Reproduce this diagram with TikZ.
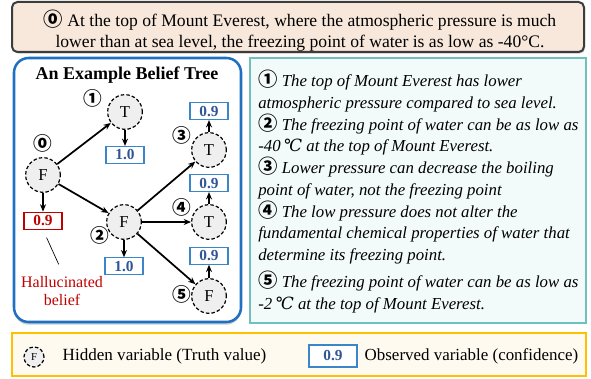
\documentclass[tikz,border=0pt]{standalone}
\usepackage{fontspec}
\setmainfont{Liberation Serif}
\newfontfamily\numfont{Noto Sans CJK SC}
\newfontfamily\degfont{DejaVu Serif}
\usepackage{tikz}
\usetikzlibrary{positioning, arrows.meta, shadows}
\usepackage{xcolor}
\definecolor{topfill}{HTML}{F8E8DC}
\definecolor{topdraw}{HTML}{3C3C3C}
\definecolor{treeblue}{HTML}{1F70C1}
\definecolor{notefill}{HTML}{F3FAFA}
\definecolor{notedraw}{HTML}{6FC0BE}
\definecolor{legfill}{HTML}{FFFAF0}
\definecolor{legdraw}{HTML}{FFC000}
\definecolor{nodegray}{HTML}{EFEFEF}
\definecolor{obsblue}{HTML}{3A86C8}
\definecolor{obstext}{HTML}{2F5597}
\definecolor{hallred}{HTML}{C00000}
\newcommand{\cn}[1]{{\numfont\bfseries\fontsize{14.5}{15}\selectfont #1}}
\newcommand{\degc}{{\degfont\itshape ℃}}

\begin{document}
\begin{tikzpicture}[
    x=0.75pt, y=-0.75pt,
    hidden/.style={circle, draw, line width=0.9pt, dash pattern=on 2.6pt off 1.6pt, fill=nodegray, minimum size=26pt, inner sep=0pt, font=\fontsize{12.5}{14}\selectfont},
    obs/.style={rectangle, draw=obsblue, line width=0.8pt, fill=white, minimum width=28.5pt, minimum height=12.75pt, inner sep=0pt, text=obstext, font=\bfseries\fontsize{11.5}{13}\selectfont},
    num/.style={inner sep=0pt, font=\numfont\bfseries\fontsize{14}{15}\selectfont},
    link/.style={-{Stealth[length=5.5pt, width=4.5pt]}, line width=1.3pt},
]
\useasboundingbox (0,0) rectangle (591,378);

% frames
\draw[topdraw, line width=1.5pt, fill=topfill, rounded corners=4pt, drop shadow={shadow xshift=0.8pt, shadow yshift=-1.2pt, opacity=0.45}] (12,2) rectangle (584,52);
\draw[treeblue, line width=1.9pt, fill=white, rounded corners=11pt, drop shadow={shadow xshift=0pt, shadow yshift=-2pt, opacity=0.4}] (14,58) rectangle (241,322);
\draw[notedraw, line width=1.3pt, fill=notefill] (250,58) rectangle (586,323);
\draw[legdraw, line width=1.3pt, fill=legfill] (12,333) rectangle (586,376);

% question
\node[align=center, font=\fontsize{13.2}{15.75}\selectfont] (question) at (300,31) {\cn{⓪} At the top of Mount Everest, where the atmospheric pressure is much\\lower than at sea level, the freezing point of water is as low as -40°C.};

% belief tree
\node[font=\bfseries\fontsize{13.5}{15}\selectfont] (title) at (127,75) {An Example Belief Tree};
\node[hidden] (f0) at (43,175) {F};
\node[hidden] (t1) at (125,112) {T};
\node[hidden] (f2) at (124,222) {F};
\node[hidden] (t3) at (209,150) {T};
\node[hidden] (t4) at (209,222) {T};
\node[hidden] (f5) at (209,296) {F};

\node[num] (n0) at (43,143) {⓪};
\node[num] (n1) at (93,98) {①};
\node[num] (n2) at (100,235) {②};
\node[num] (n3) at (182,135) {③};
\node[num] (n4) at (182,207) {④};
\node[num] (n5) at (182,294) {⑤};

\node[obs, draw=hallred, text=hallred, below=14pt of f0] (c0) {0.9};
\node[obs, below=12pt of t1] (c1) {1.0};
\node[obs, below=13pt of f2] (c2) {1.0};
\node[obs, above=9pt of t3] (c3) {0.9};
\node[obs, above=9pt of t4] (c4) {0.9};
\node[obs, above=10pt of f5] (c5) {0.9};

\node[align=center, text=hallred, font=\fontsize{12}{13.5}\selectfont] (hal) at (62,291) {Hallucinated\\belief};

\draw[link] (f0) -- (t1);
\draw[link] (f0) -- (f2);
\draw[link] (f2) -- (t3);
\draw[link] (f2) -- (t4);
\draw[link] (f2) -- (f5);
\draw[link] (f0) -- (c0);
\draw[link] (t1) -- (c1);
\draw[link] (f2) -- (c2);
\draw[link] (t3) -- (c3);
\draw[link] (t4) -- (c4);
\draw[link] (f5) -- (c5);
\draw[line width=0.5pt, shorten <=6.5pt, shorten >=6pt] (c0.south) -- (hal.north);

% statements
\node[anchor=north west, align=left, inner sep=0pt, font=\itshape\fontsize{12.6}{16.3}\selectfont] (notes) at (258,70) {\cn{①} The top of Mount Everest has lower\\
atmospheric pressure compared to sea level.\\
\cn{②} The freezing point of water can be as low as\\
-40\,\degc{} at the top of Mount Everest.\\
\cn{③} Lower pressure can decrease the boiling\\
point of water, not the freezing point\\
\cn{④} The low pressure does not alter the\\
fundamental chemical properties of water that\\
determine its freezing point.\\[4pt]
\cn{⑤} The freezing point of water can be as low as\\
-2\,\degc{} at the top of Mount Everest.};

% legend
\node[hidden, minimum size=15pt, font=\fontsize{8}{9}\selectfont] (lhid) at (34,357) {F};
\node[anchor=west, font=\fontsize{12.8}{14}\selectfont] (lhidtxt) at (58,356) {Hidden variable (Truth value)};
\node[obs, minimum width=36pt, minimum height=16.5pt] (lobs) at (333,356) {0.9};
\node[anchor=west, font=\fontsize{12.7}{14}\selectfont] (lobstxt) at (360,356) {Observed variable (confidence)};
\end{tikzpicture}
\end{document}
